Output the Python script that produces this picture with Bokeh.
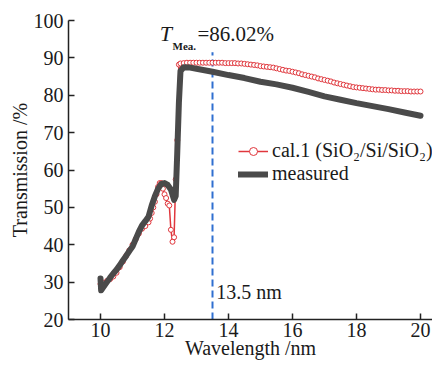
from bokeh.plotting import figure
from bokeh.models import Label, Legend, LegendItem, Range1d, ColumnDataSource
from bokeh.embed import file_html
from bokeh.resources import INLINE

# ---- data ----
cal_x = [10.0, 10.1, 10.2, 10.3, 10.4, 10.5, 10.6, 10.7, 10.8, 10.9, 11.0, 11.1, 11.2, 11.3, 11.4,
         11.5, 11.55, 11.6, 11.65, 11.7, 11.75, 11.8, 11.85, 11.9, 11.95, 12.0, 12.05, 12.1, 12.15,
         12.2, 12.25, 12.3, 12.35, 12.4, 12.45, 12.5, 12.6, 12.7, 12.8, 12.9, 13.0, 13.1, 13.2, 13.3,
         13.4, 13.5, 13.6, 13.7, 13.8, 13.9, 14.0, 14.1, 14.2, 14.3, 14.4, 14.5, 14.6, 14.7, 14.8,
         14.9, 15.0, 15.1, 15.2, 15.3, 15.4, 15.5, 15.6, 15.7, 15.8, 15.9, 16.0, 16.1, 16.2, 16.3,
         16.4, 16.5, 16.6, 16.7, 16.8, 16.9, 17.0, 17.1, 17.2, 17.3, 17.4, 17.5, 17.6, 17.7, 17.8,
         17.9, 18.0, 18.1, 18.2, 18.3, 18.4, 18.5, 18.6, 18.7, 18.8, 18.9, 19.0, 19.1, 19.2, 19.3,
         19.4, 19.5, 19.6, 19.7, 19.8, 19.9, 20.0]
cal_y = [29.5, 29.8, 30.3, 30.8, 31.5, 32.5, 34.0, 35.5, 37.0, 38.5, 40.0, 41.5, 43.0, 44.3, 45.0,
         46.0, 47.0, 48.5, 50.0, 51.5, 53.5, 55.5, 56.5, 56.5, 55.0, 53.5, 52.5, 51.0, 50.5,
         44.0, 40.8, 42.0, 57.5, 68.0, 88.2, 88.5, 88.6, 88.7, 88.7, 88.7, 88.7, 88.7, 88.7, 88.7,
         88.7, 88.7, 88.7, 88.7, 88.7, 88.6, 88.6, 88.6, 88.6, 88.5, 88.5, 88.4, 88.3, 88.2, 88.1,
         88.0, 87.8, 87.7, 87.6, 87.5, 87.4, 87.2, 87.0, 86.8, 86.6, 86.5, 86.3, 86.1, 85.9, 85.6,
         85.4, 85.2, 85.0, 84.8, 84.5, 84.3, 84.1, 83.9, 83.7, 83.4, 83.2, 83.0, 82.8, 82.6, 82.4,
         82.2, 82.1, 82.0, 81.9, 81.8, 81.7, 81.6, 81.5, 81.5, 81.4, 81.4, 81.3, 81.3, 81.2, 81.2,
         81.1, 81.1, 81.1, 81.0, 81.0, 81.0, 81.0]

meas_x = [10.0, 10.02, 10.1, 10.2, 10.3, 10.4, 10.5, 10.6, 10.7, 10.8, 10.9, 11.0, 11.1, 11.2,
          11.3, 11.4, 11.5, 11.6, 11.7, 11.8, 11.9, 12.0, 12.1, 12.2, 12.3, 12.35, 12.4, 12.45,
          12.5, 12.6, 12.8, 13.0, 13.5, 14.0, 14.5, 15.0, 15.5, 16.0, 16.5, 17.0, 17.5, 18.0,
          18.5, 19.0, 19.5, 20.0]
meas_y = [31.0, 27.8, 28.8, 30.0, 31.2, 32.3, 33.3, 34.5, 35.8, 37.0, 38.3, 39.5, 41.5, 43.5,
          45.2, 46.3, 47.5, 50.5, 53.0, 55.0, 56.3, 56.5, 56.0, 54.8, 52.0, 53.0, 65.0, 78.0,
          86.5, 87.5, 87.4, 87.1, 86.3, 85.4, 84.6, 83.6, 82.9, 82.0, 80.9, 79.7, 78.8, 77.9,
          77.1, 76.3, 75.4, 74.5]

x_ticks = [10, 12, 14, 16, 18, 20]
y_ticks = [20, 30, 40, 50, 60, 70, 80, 90, 100]
marker_wl = 13.5

FONT = "'Liberation Serif', 'DejaVu Serif', serif"
TXT = "#1a1a1a"
RED = "#e0363c"
GRAY = "#4a4a4a"
BLUE = "#2f6fd0"

p = figure(width=432, height=361, output_backend="svg", toolbar_location=None,
           x_range=Range1d(9.0, 20.375), y_range=Range1d(20, 100),
           min_border_left=68, min_border_right=0, min_border_top=20, min_border_bottom=30)
p.outline_line_color = None
p.grid.visible = False
p.background_fill_color = "white"
p.border_fill_color = "white"

for ax in (p.xaxis[0], p.yaxis[0]):
    ax.major_label_text_font = FONT
    ax.major_label_text_font_size = "20px"
    ax.major_label_text_color = TXT
    ax.axis_label_text_font = FONT
    ax.axis_label_text_font_size = "20px"
    ax.axis_label_text_font_style = "normal"
    ax.axis_label_text_color = TXT
    ax.axis_line_color = "#222222"
    ax.axis_line_width = 1.5
    ax.major_tick_line_color = "#222222"
    ax.major_tick_line_width = 1.5
    ax.major_tick_in = 6
    ax.major_tick_out = 0
    ax.minor_tick_in = 0
    ax.minor_tick_out = 0
    ax.major_label_standoff = 5
    ax.axis_label_standoff = 0

p.xaxis.major_label_standoff = 3
p.xaxis.axis_label_standoff = -3

p.xaxis.ticker = x_ticks
p.yaxis.ticker = y_ticks
p.xaxis.axis_label = "Wavelength /nm"
p.yaxis.axis_label = "Transmission /%"

seg_src = ColumnDataSource(dict(x0=[marker_wl], y0=[20], x1=[marker_wl], y1=[91.5]))
p.segment("x0", "y0", "x1", "y1", source=seg_src, line_color=BLUE, line_width=2,
          line_dash="7 4")

r_cal_line = p.line(cal_x, cal_y, line_color=RED, line_width=1.5)
r_cal_pts = p.scatter(cal_x, cal_y, marker="circle", size=5, fill_color="white",
                      line_color=RED, line_width=1)
r_meas = p.line(meas_x, meas_y, line_color=GRAY, line_width=6, line_cap="round",
                line_join="round")

legend = Legend(items=[LegendItem(label="cal.1 (SiO\u2082/Si/SiO\u2082)", renderers=[r_cal_line, r_cal_pts]),
                       LegendItem(label="measured", renderers=[r_meas])],
                location=(170, 134), border_line_color=None, background_fill_alpha=0,
                label_text_font=FONT, label_text_font_size="20px", label_text_color=TXT,
                glyph_width=30, glyph_height=20, label_height=20, label_standoff=4,
                padding=0, margin=0, spacing=0)
p.add_layout(legend)

p.add_layout(Label(x=11.85, y=93.3, text="T", text_font=FONT, text_font_size="22px",
                   text_font_style="italic", text_color=TXT))
p.add_layout(Label(x=12.25, y=91.6, text="Mea.", text_font=FONT, text_font_size="11px",
                   text_font_style="bold", text_color=TXT))
p.add_layout(Label(x=13.03, y=93.3, text="=86.02%", text_font=FONT, text_font_size="21px",
                   text_color=TXT))
p.add_layout(Label(x=13.62, y=24.4, text="13.5 nm", text_font=FONT, text_font_size="20px",
                   text_color=TXT))

open("out.html", "w").write(file_html(p, INLINE))
